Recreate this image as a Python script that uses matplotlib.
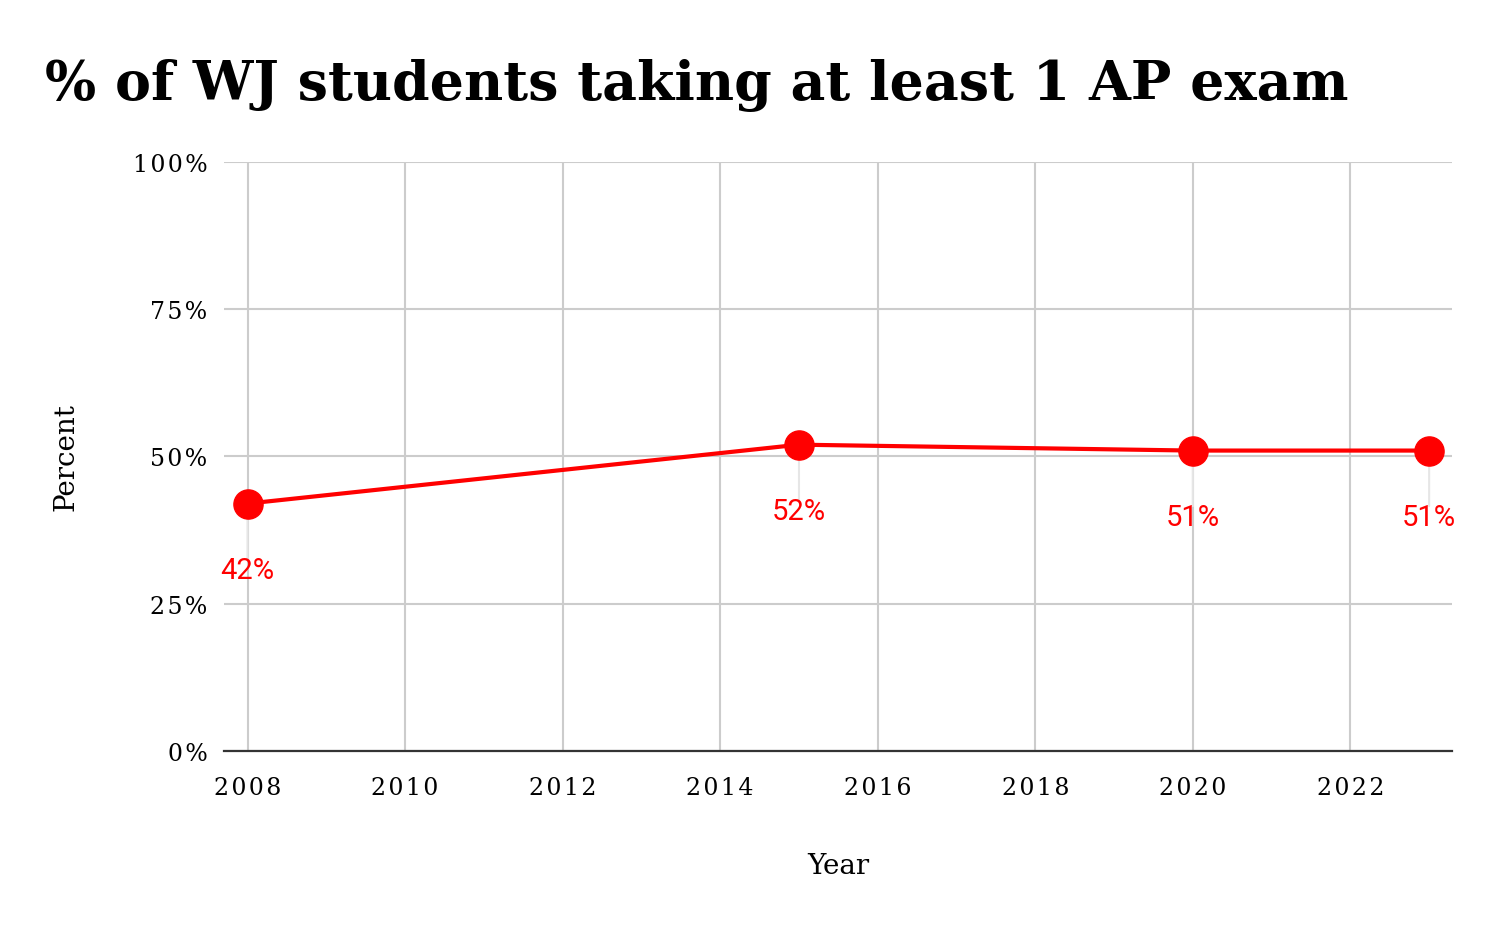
import matplotlib
matplotlib.use("Agg")
import matplotlib.pyplot as plt
import matplotlib.ticker as mticker

# data
years = [2008, 2015, 2020, 2023]
percent = [42, 52, 51, 51]
point_labels = ["42%", "52%", "51%", "51%"]

x_ticks = [2008, 2010, 2012, 2014, 2016, 2018, 2020, 2022]
y_ticks = [0, 25, 50, 75, 100]

title = "% of WJ students taking at least 1 AP exam"

red = "#ff0000"
grid_col = "#cccccc"
serif = "DejaVu Serif"
gap = "\u200a"  # the reference tick font is a little letter-spaced


def spaced(s):
    return gap.join(s)


fig = plt.figure(figsize=(15, 9.28), dpi=100)
ax = fig.add_axes([0.1493, 0.1897, 0.8187, 0.6347])

ax.set_xlim(2007.70, 2023.29)
ax.set_ylim(0, 100)

ax.set_xticks(x_ticks)
ax.set_yticks(y_ticks)
ax.xaxis.set_major_formatter(mticker.FuncFormatter(lambda v, p: spaced(f"{v:.0f}")))
ax.yaxis.set_major_formatter(mticker.FuncFormatter(lambda v, p: spaced(f"{v:.0f}%")))
ax.grid(True, color=grid_col, linewidth=1.5)
ax.set_axisbelow(True)
for s in ["top", "right", "left"]:
    ax.spines[s].set_visible(False)
ax.spines["bottom"].set_color("#333333")
ax.spines["bottom"].set_linewidth(1.6)
ax.spines["bottom"].set_zorder(3)
ax.tick_params(length=0, labelsize=17)
ax.tick_params(axis="x", pad=18)
ax.tick_params(axis="y", pad=12)
for lab in ax.get_xticklabels() + ax.get_yticklabels():
    lab.set_fontfamily(serif)

# leader lines from each point down to its label
for x, y in zip(years, percent):
    ax.annotate("", xy=(x, y), xytext=(0, -40), textcoords="offset points",
                arrowprops=dict(arrowstyle="-", color="#e6e6e6", lw=1.5,
                                shrinkA=0, shrinkB=0), zorder=2)

ax.plot(years, percent, color=red, linewidth=3, marker="o", markersize=21,
        zorder=4, clip_on=False)

for x, y, t in zip(years, percent, point_labels):
    ax.annotate(t, xy=(x, y), xytext=(0, -48), textcoords="offset points",
                ha="center", va="center", color=red, fontsize=21,
                fontfamily="Roboto", zorder=5)

ax.set_xlabel("Year", fontsize=20, fontfamily=serif, labelpad=38)
ax.set_ylabel("Percent", fontsize=20, fontfamily=serif, labelpad=38)

fig.text(0.03, 0.908, title, fontsize=38.8, fontweight="bold",
         fontfamily=serif, ha="left", va="center")

fig.savefig("out.png", dpi=100)
